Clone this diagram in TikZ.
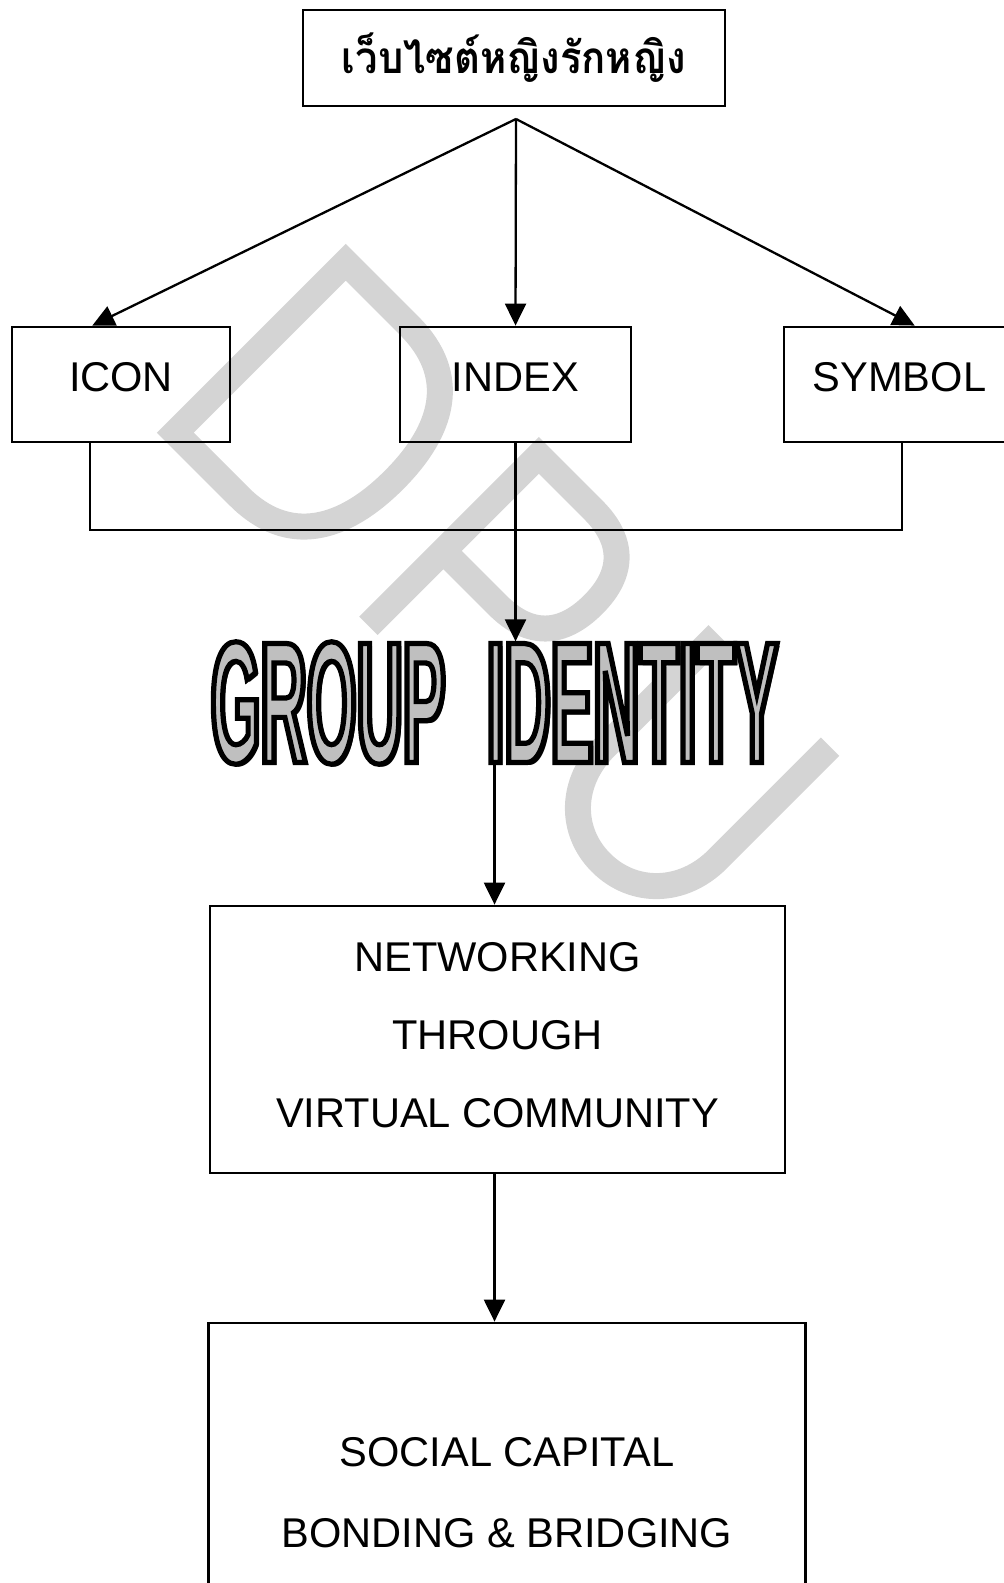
\documentclass[tikz,border=0pt]{standalone}
\usepackage{fontspec}
\setmainfont{Liberation Sans}
\newfontfamily\thaifont[Script=Thai, FakeStretch=0.91]{Loma}
\newfontfamily\groupfont[FakeStretch=0.37]{Liberation Sans}
\usetikzlibrary{arrows.meta}
\usetikzlibrary{calc}

\newcommand{\grouptext}{\groupfont\bfseries\fontsize{86.5}{90}\selectfont}
\newcommand{\outlineon}{\special{pdf:literal direct 0 G 2 Tr 2.6 w}}
\newcommand{\outlineoff}{\special{pdf:literal direct 0 Tr}}

\begin{document}
\begin{tikzpicture}[
    x=0.5pt, y=-0.5pt,
    >={Triangle[length=11pt, width=10.5pt]},
    box/.style={draw, line width=1.4pt, inner sep=0pt, align=center, font=\fontsize{20.8}{39}\selectfont},
    sign/.style={box, minimum height=57.5pt, text depth=7.5pt},
    link/.style={line width=1.15pt},
    wmark/.style={draw=black!17, line width=13pt, line join=miter},
    gid/.style={inner sep=0pt, font=\grouptext}
]

\useasboundingbox (0,0) rectangle (1004,1583);

% Watermark :
\begin{scope}[x={(0.35355pt,-0.35355pt)}, y={(0.35355pt,0.35355pt)}, wmark]
\draw (430,-182) -- (430,59) -- (520,59) .. controls (590,59) and (618,10) .. (618,-61) .. controls (618,-132) and (590,-182) .. (520,-182) -- cycle;
\draw (703,-182) -- (703,59) -- (780,59) .. controls (825,59) and (847,35) .. (847,-8) .. controls (847,-52) and (825,-76) .. (780,-76) -- (703,-76);
\draw (956,59) -- (956,-100) .. controls (956,-150) and (990,-185) .. (1035,-185) .. controls (1080,-185) and (1115,-150) .. (1115,-100) -- (1115,59);
\end{scope}

% Nodes :
\node[box, minimum width=211pt, minimum height=48pt, font=\thaifont\bfseries\fontsize{22}{26}\selectfont] (web) at (514,58) {เว็บไซต์หญิงรักหญิง};
\coordinate (split) at (516,119);

\node[sign, minimum width=109pt] (icon) at (121,384.5) {ICON};
\node[sign, minimum width=115.5pt] (index) at (515.5,384.5) {INDEX};
\node[sign, minimum width=115.5pt] (symbol) at (899.5,384.5) {SYMBOL};
\coordinate (join) at (514,530);

\node[gid, text=black] (gshadow) at (497.5,706) {GROUP\hspace{20.6pt}IDENTITY};
\node[gid, text=black!25] (group) at (494.5,703) {\outlineon GROUP\hspace{20.6pt}IDENTITY\outlineoff};

\node[box, minimum width=287.5pt, minimum height=133.5pt, text depth=5pt] (net) at (497.5,1039.5) {NETWORKING\\THROUGH\\VIRTUAL COMMUNITY};
\node[box, minimum width=298.75pt, minimum height=169.5pt, font=\fontsize{20.8}{40.5}\selectfont] (social) at (507,1492.5) {SOCIAL CAPITAL\\BONDING \& BRIDGING};

% Edges :
\draw[link, ->] (split) -- ($(icon.north west)!0.37!(icon.north east)$);
\draw[link, ->] (split) -- (index.north);
\draw[link, ->] (split) -- ($(symbol.north west)!0.565!(symbol.north east)$);
\draw[link] ($(icon.south west)!0.36!(icon.south east)$) |- (join) -| ($(symbol.south west)!0.51!(symbol.south east)$);

\draw[link, ->] (index.south) -- (index.south |- group.north);
\draw[link, ->] (group.south) -- (group.south |- net.north);
\draw[link, ->] (group.south |- net.south) -- (group.south |- social.north);

\end{tikzpicture}
\end{document}
